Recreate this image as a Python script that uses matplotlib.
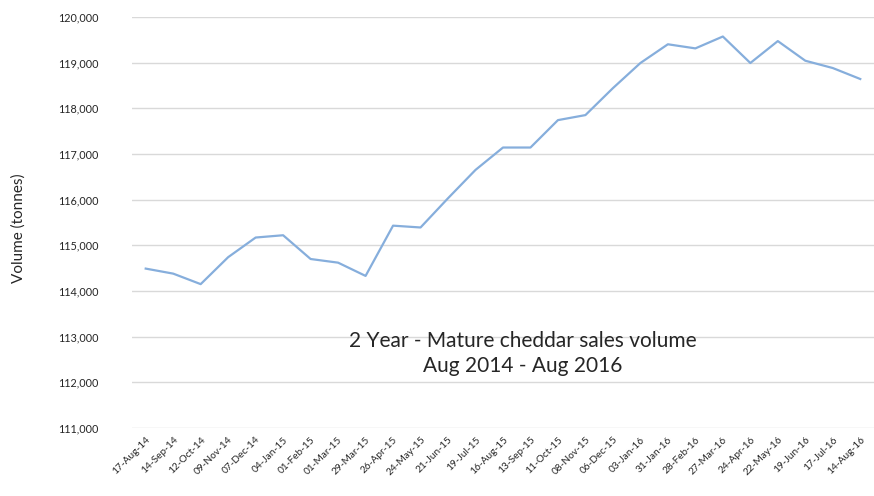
import matplotlib.pyplot as plt
import numpy as np

# 4-weekly periods, Aug 2014 - Aug 2016
dates = ['17-Aug-14', '14-Sep-14', '12-Oct-14', '09-Nov-14', '07-Dec-14', '04-Jan-15',
         '01-Feb-15', '01-Mar-15', '29-Mar-15', '26-Apr-15', '24-May-15', '21-Jun-15',
         '19-Jul-15', '16-Aug-15', '13-Sep-15', '11-Oct-15', '08-Nov-15', '06-Dec-15',
         '03-Jan-16', '31-Jan-16', '28-Feb-16', '27-Mar-16', '24-Apr-16', '22-May-16',
         '19-Jun-16', '17-Jul-16', '14-Aug-16']
volume = [114490, 114380, 114150, 114740, 115170, 115220, 114700, 114620, 114330,
          115430, 115390, 116030, 116650, 117140, 117140, 117740, 117850, 118440,
          118990, 119400, 119310, 119570, 118990, 119470, 119040, 118880, 118640]
yticks = np.arange(111000, 120001, 1000)

plt.rcParams['font.family'] = ['Lato', 'DejaVu Sans']

fig = plt.figure(figsize=(8.74, 4.96), dpi=100)
ax = fig.add_axes([0.151, 0.137, 0.849, 0.829])

x = np.arange(len(dates))
ax.plot(x, volume, color='#86aedc', lw=1.6)

ax.set_xlim(-0.5, len(dates) - 0.5)
ax.set_ylim(111000, 120000)
ax.set_yticks(yticks)
ax.set_yticklabels([f'{v:,}' for v in yticks], fontsize=7.8, color='#262626')
ax.set_xticks(x)
ax.set_xticklabels(dates, rotation=45, ha='right', rotation_mode='anchor',
                   fontsize=7.3, color='#262626')
ax.tick_params(length=0, pad=5)
ax.tick_params(axis='y', pad=24)
ax.grid(axis='y', color='#d9d9d9', lw=1)
ax.set_axisbelow(True)
for s in ax.spines.values():
    s.set_visible(False)

# y label sits far left, like the original sheet
fig.text(19 / 874, 0.54, 'Volume (tonnes)', rotation=90, ha='center', va='center',
         fontsize=11, color='#262626')

ax.text(0.527, 0.181, '2 Year - Mature cheddar sales volume\nAug 2014 - Aug 2016',
        transform=ax.transAxes, ha='center', va='center', fontsize=15,
        color='#262626', linespacing=1.3)

fig.savefig('out.png', dpi=100)
